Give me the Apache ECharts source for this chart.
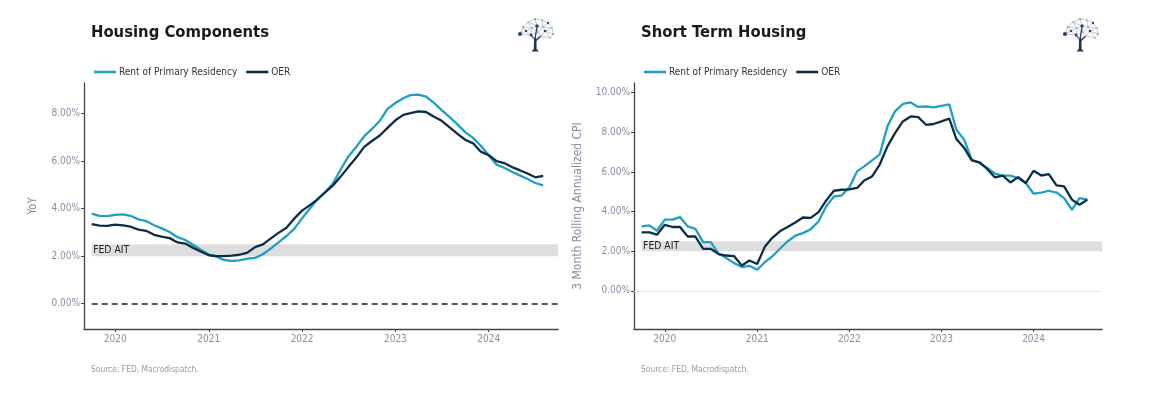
<!DOCTYPE html>
<html><head><meta charset="utf-8">
<script src="https://cdn.jsdelivr.net/npm/echarts@6/dist/echarts.min.js"></script>
<style>html,body{margin:0;padding:0;background:#fff}#c{width:1151px;height:398px}</style>
</head><body><div id="c"></div>
<script>
const months = [
 '2019-10','2019-11','2019-12',
 '2020-01','2020-02','2020-03','2020-04','2020-05','2020-06','2020-07','2020-08','2020-09','2020-10','2020-11','2020-12',
 '2021-01','2021-02','2021-03','2021-04','2021-05','2021-06','2021-07','2021-08','2021-09','2021-10','2021-11','2021-12',
 '2022-01','2022-02','2022-03','2022-04','2022-05','2022-06','2022-07','2022-08','2022-09','2022-10','2022-11','2022-12',
 '2023-01','2023-02','2023-03','2023-04','2023-05','2023-06','2023-07','2023-08','2023-09','2023-10','2023-11','2023-12',
 '2024-01','2024-02','2024-03','2024-04','2024-05','2024-06','2024-07','2024-08'
];
// Housing Components (YoY, %)
const yoyRent = [3.79,3.70,3.69,3.74,3.76,3.70,3.55,3.48,3.30,3.17,3.02,2.80,2.68,2.48,2.27,2.07,1.98,1.84,1.80,1.82,1.90,1.93,2.08,2.33,2.58,2.85,3.15,3.59,
 4.02,4.38,4.70,5.05,5.65,6.20,6.60,7.05,7.35,7.70,8.20,8.45,8.65,8.78,8.80,8.72,8.45,8.15,7.85,7.55,7.22,6.98,6.65,6.25,5.85,5.72,5.55,5.40,5.25,5.08,4.98];
const yoyOER = [3.35,3.29,3.28,3.33,3.30,3.24,3.12,3.07,2.90,2.82,2.76,2.58,2.53,2.35,2.20,2.04,2.00,2.00,2.02,2.06,2.15,2.38,2.50,2.75,2.98,3.20,3.58,3.92,
 4.15,4.38,4.68,4.97,5.35,5.75,6.15,6.60,6.85,7.08,7.40,7.72,7.95,8.02,8.10,8.07,7.87,7.70,7.42,7.15,6.90,6.75,6.40,6.25,6.00,5.92,5.75,5.62,5.48,5.32,5.38];
// Short Term Housing (3 month rolling annualized, %)
const stRent = [3.25,3.30,3.03,3.59,3.59,3.72,3.25,3.13,2.46,2.46,1.87,1.65,1.40,1.20,1.26,1.06,1.45,1.73,2.12,2.49,
 2.78,2.91,3.11,3.50,4.26,4.76,4.81,5.22,6.03,6.28,6.58,6.87,8.30,9.06,9.43,9.51,9.28,9.31,9.26,9.34,
 9.41,8.13,7.63,6.62,6.45,6.20,5.91,5.81,5.81,5.69,5.44,4.90,4.96,5.05,4.96,4.68,4.09,4.68,4.60];
const stOER = [2.95,2.95,2.83,3.33,3.22,3.22,2.74,2.74,2.12,2.12,1.85,1.78,1.75,1.28,1.53,1.35,2.24,2.66,3.00,3.22,
 3.45,3.70,3.68,3.97,4.55,5.05,5.10,5.12,5.19,5.57,5.77,6.36,7.29,7.96,8.55,8.80,8.77,8.38,8.42,8.55,
 8.69,7.66,7.21,6.58,6.48,6.15,5.72,5.81,5.47,5.74,5.44,6.06,5.82,5.89,5.32,5.27,4.60,4.34,4.60];
const leftYTicks = [0,2,4,6,8];
const rightYTicks = [0,2,4,6,8,10];
const yearTicks = ['2020-01','2021-01','2022-01','2023-01','2024-01'];
const fedBand = [2, 2.5];
const seriesNames = ['Rent of Primary Residency','OER'];

const FONT = "'DejaVu Sans Condensed','DejaVu Sans',sans-serif";
const C_RENT = '#1f9fc4', C_OER = '#0c2d48';
const C_TICK = '#8b8ba3', C_AXIS = '#444';
function ts(s){ const p = s.split('-').map(Number); return Date.UTC(p[0], p[1]-1, 1); }
const xMin = Date.UTC(2019,8,1), xMax = Date.UTC(2024,8,28);
const yearTs = yearTicks.map(ts);
const first = ts(months[0]);

function xAxis(gi){
  return {type:'value', gridIndex:gi, min:xMin, max:xMax, scale:true,
    axisLine:{show:true, onZero:false, lineStyle:{color:C_AXIS, width:1.3}},
    axisTick:{show:true, length:3, customValues:yearTs, lineStyle:{color:C_AXIS}},
    axisLabel:{customValues:yearTs, formatter:v=>String(new Date(v).getUTCFullYear()),
      color:C_TICK, fontSize:10, fontFamily:FONT, margin:5},
    splitLine:{show:false}};
}
function yAxis(gi, min, max, ticks, name, gap, nameSize){
  return {type:'value', gridIndex:gi, min, max,
    axisLine:{show:true, onZero:false, lineStyle:{color:C_AXIS, width:1.3}},
    axisTick:{show:true, length:3, customValues:ticks, lineStyle:{color:C_AXIS}},
    axisLabel:{customValues:ticks, formatter:v=>v.toFixed(2)+'%', color:C_TICK, fontSize:10, fontFamily:FONT, margin:4},
    splitLine:{show:false},
    name, nameLocation:'middle', nameGap:gap, nameTextStyle:{color:C_TICK, fontSize:nameSize, fontFamily:FONT}};
}
function line(name, vals, color, gi, extra){
  return Object.assign({type:'line', name, xAxisIndex:gi, yAxisIndex:gi,
    data: months.map((m,i)=>[ts(m), vals[i]]), symbol:'none', showSymbol:false,
    lineStyle:{color, width:2.3}, itemStyle:{color}, z:3, animation:false}, extra||{});
}
function band(){
  return {silent:true, itemStyle:{color:'#dedede'},
    label:{show:true, position:'insideLeft', formatter:'FED AIT', color:'#222', fontSize:10.3, fontFamily:FONT, distance:1.5},
    data:[[{xAxis:first, yAxis:fedBand[0]},{xAxis:xMax, yAxis:fedBand[1]}]]};
}
function logo(x, y){
  const n = [[6,18],[9,11],[14,6],[21,3],[28,4],[34,7],[38,12],[39,18],[36,22],
             [12,15],[18,12],[23,10],[29,11],[17,19],[24,16],[31,15],[27,20],[20,22]];
  const e = [[0,1],[1,2],[2,3],[3,4],[4,5],[5,6],[6,7],[7,8],
             [0,9],[1,9],[9,10],[2,10],[10,11],[3,11],[11,12],[4,12],[12,5],[12,15],[15,6],[15,7],[15,8],
             [9,13],[13,0],[10,14],[11,14],[14,12],[14,16],[16,15],[16,8],[13,17],[17,16],[13,14],[10,13],[1,10],[11,2],[12,6]];
  const ch = [];
  e.forEach(p=>ch.push({type:'line', shape:{x1:n[p[0]][0],y1:n[p[0]][1],x2:n[p[1]][0],y2:n[p[1]][1]}, style:{stroke:'#a3b2c3', lineWidth:0.7}}));
  ch.push({type:'polygon', shape:{points:[[20,22],[22.4,22],[22.6,33],[25,35.5],[17.5,35.5],[19.8,33]]}, style:{fill:'#1d3552'}});
  [[21,24,17,19],[21.5,25,27,20],[21,23,23,11]].forEach(b=>ch.push({type:'line', shape:{x1:b[0],y1:b[1],x2:b[2],y2:b[3]}, style:{stroke:'#1d3552', lineWidth:1.2}}));
  const big = {0:2.1, 11:1.7, 13:1.4, 15:1.3, 9:1.2, 5:1.2};
  n.forEach((p,i)=>ch.push({type:'circle', shape:{cx:p[0], cy:p[1], r:(big[i]||0.9)},
    style:{fill:(big[i]? '#2c4766' : (i%2? '#7d90a8':'#a7b5c6'))}}));
  return {type:'group', x, y, children:ch, silent:true};
}

const legendBase = {top:67, padding:0, icon:'rect', itemWidth:22, itemHeight:2.6, itemGap:9, data:seriesNames,
  textStyle:{fontSize:10, color:'#333', fontFamily:FONT, padding:[0,0,0,-2]}};

const chart = echarts.init(document.getElementById('c'), null, {renderer:'canvas'});
chart.setOption({
  animation:false, backgroundColor:'#fff',
  title:[
    {text:'Housing Components', left:91, top:24, padding:0, textStyle:{fontSize:16.5, fontWeight:'bold', color:'#1a1a1a', fontFamily:FONT}},
    {text:'Short Term Housing', left:641, top:24, padding:0, textStyle:{fontSize:16.5, fontWeight:'bold', color:'#1a1a1a', fontFamily:FONT}}
  ],
  legend:[
    Object.assign({left:94}, legendBase),
    Object.assign({left:644}, legendBase)
  ],
  grid:[
    {left:84, top:83, width:474, height:246, containLabel:false},
    {left:634, top:83, width:468, height:246, containLabel:false}
  ],
  xAxis:[xAxis(0), xAxis(1)],
  yAxis:[yAxis(0,-1.065,9.29,leftYTicks,'YoY',45,11.5), yAxis(1,-1.93,10.49,rightYTicks,'3 Month Rolling Annualized CPI',50,12)],
  series:[
    line(seriesNames[0], yoyRent, C_RENT, 0, {markArea:band()}),
    line(seriesNames[1], yoyOER, C_OER, 0, {markLine:{silent:true, symbol:'none', label:{show:false},
      lineStyle:{color:'#222', type:[6,4], width:1.5}, data:[[{coord:[first,0]},{coord:[xMax,0]}]]}}),
    line(seriesNames[0], stRent, C_RENT, 1, {markArea:band()}),
    line(seriesNames[1], stOER, C_OER, 1, {markLine:{silent:true, symbol:'none', label:{show:false},
      lineStyle:{color:'#e6e6e6', type:'solid', width:1}, z:1, data:[{yAxis:0}]}})
  ],
  graphic:[
    logo(514, 16), logo(1059, 16),
    {type:'text', left:91, top:365.5, style:{text:'Source: FED, Macrodispatch.', fill:'#999', font:"8.4px 'DejaVu Sans Condensed','DejaVu Sans',sans-serif"}},
    {type:'text', left:641, top:365.5, style:{text:'Source: FED, Macrodispatch.', fill:'#999', font:"8.4px 'DejaVu Sans Condensed','DejaVu Sans',sans-serif"}}
  ]
});
</script></body></html>
